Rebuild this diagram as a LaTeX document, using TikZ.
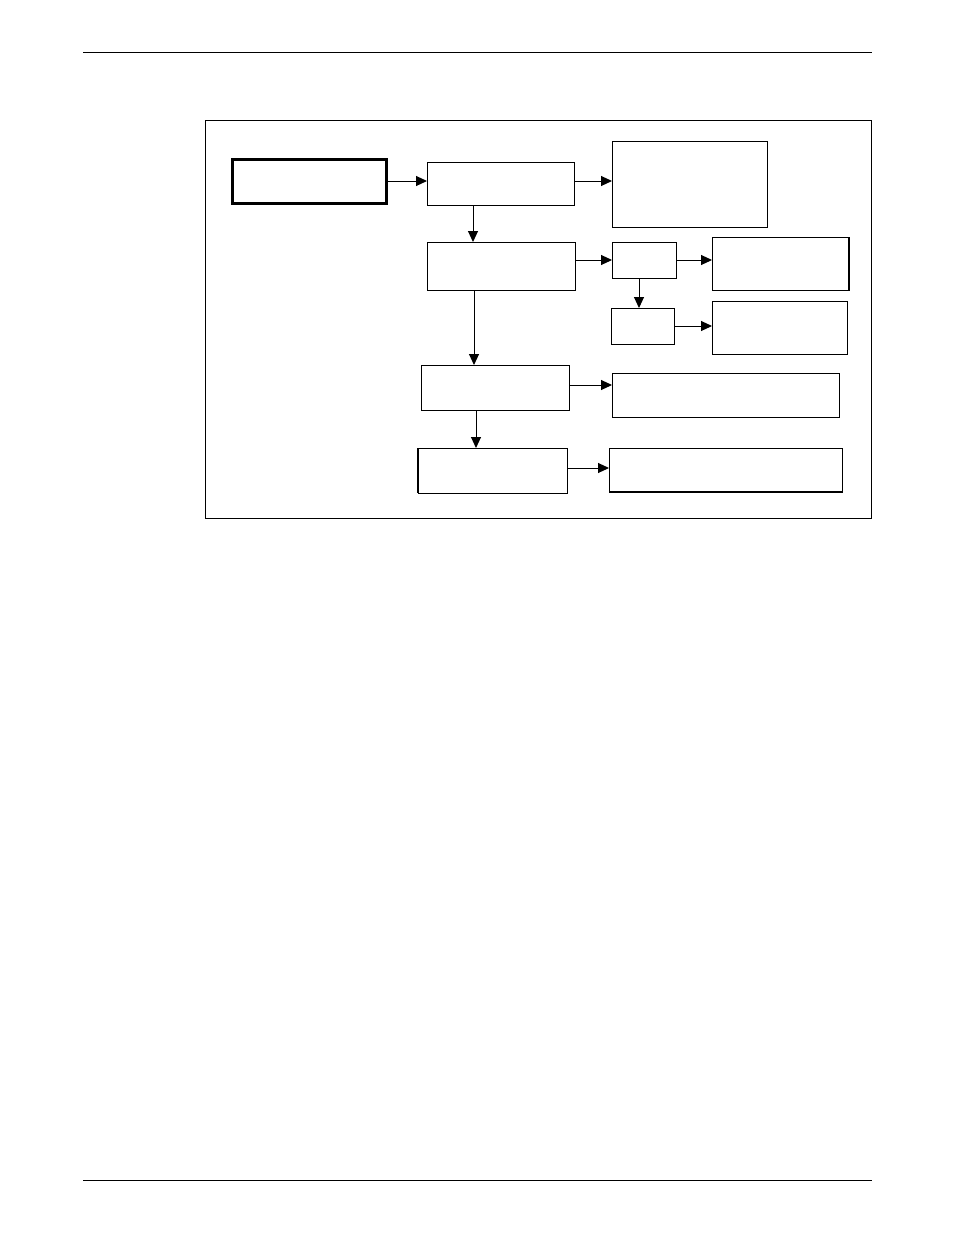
\documentclass[tikz,border=0pt]{standalone}
\usetikzlibrary{arrows.meta}
\begin{document}
\begin{tikzpicture}[x=1pt,y=-1pt,
  box/.style={draw=black,line width=1pt,fill=white,inner sep=0pt,outer sep=0pt},
  thickbox/.style={box,line width=3pt},
  arr/.style={draw=black,line width=1pt,-{Triangle[length=11pt,width=10pt]}},
  rule/.style={draw=black,line width=1pt}]
\useasboundingbox[fill=white] (0,0) rectangle (954,1235);
% page rules
\coordinate (tl) at (83,52); \coordinate (tr) at (872,52);
\coordinate (bl) at (83,1180); \coordinate (br) at (872,1180);
\draw[rule] (tl) -- (tr);
\draw[rule] (bl) -- (br);
% frame
\node[box,minimum width=666pt,minimum height=398pt] (frame) at (538,319) {};
% boxes
\node[thickbox,minimum width=154pt,minimum height=44pt] (A) at (309,181) {};
\node[box,minimum width=147pt,minimum height=43pt] (B) at (500.5,183.5) {};
\node[box,minimum width=148pt,minimum height=48pt] (C) at (501,266) {};
\node[box,minimum width=155pt,minimum height=86pt] (D) at (689.5,184) {};
\node[box,minimum width=64pt,minimum height=36pt] (E) at (644,260) {};
\node[box,minimum width=63pt,minimum height=36pt] (F) at (642.5,326) {};
\node[box,minimum width=137pt,minimum height=53pt] (G) at (780.5,263.5) {};
\node[box,minimum width=135pt,minimum height=53pt] (H) at (779.5,327.5) {};
\node[box,minimum width=148pt,minimum height=45pt] (I) at (495,387.5) {};
\node[box,minimum width=227pt,minimum height=44pt] (J) at (725.5,395) {};
\node[box,minimum width=149pt,minimum height=45pt] (K) at (492.5,470.5) {};
\node[box,minimum width=233pt,minimum height=44pt] (L) at (725.5,470) {};
% extra weight on some edges
\draw[line width=2pt] (G.north east) -- (G.south east);
\draw[line width=2pt] (L.south west) -- (L.south east);
\draw[line width=2pt] (K.north west) -- (K.south west);
% connectors
\draw[arr] (A.east) -- (A.east -| B.west);
\draw[arr] ([yshift=2.5pt]B.east) -- ([yshift=2.5pt]B.east -| D.west);
\draw[arr] (E.west -| C.east) -- (E.west);
\draw[arr] (E.east) -- (E.east -| G.west);
\draw[arr] (F.east) -- (F.east -| H.west);
\draw[arr] ([yshift=2.5pt]I.east) -- ([yshift=2.5pt]I.east -| J.west);
\draw[arr] ([yshift=2.5pt]K.east) -- ([yshift=2.5pt]K.east -| L.west);
\draw[arr] ([xshift=-27.5pt]B.south) -- ([xshift=-27.5pt]B.south |- C.north);
\draw[arr] ([xshift=-27pt]C.south) -- ([xshift=-27pt]C.south |- I.north);
\draw[arr] ([xshift=-19pt]I.south) -- ([xshift=-19pt]I.south |- K.north);
\draw[arr] ([xshift=-5pt]E.south) -- ([xshift=-5pt]E.south |- F.north);
\end{tikzpicture}
\end{document}
